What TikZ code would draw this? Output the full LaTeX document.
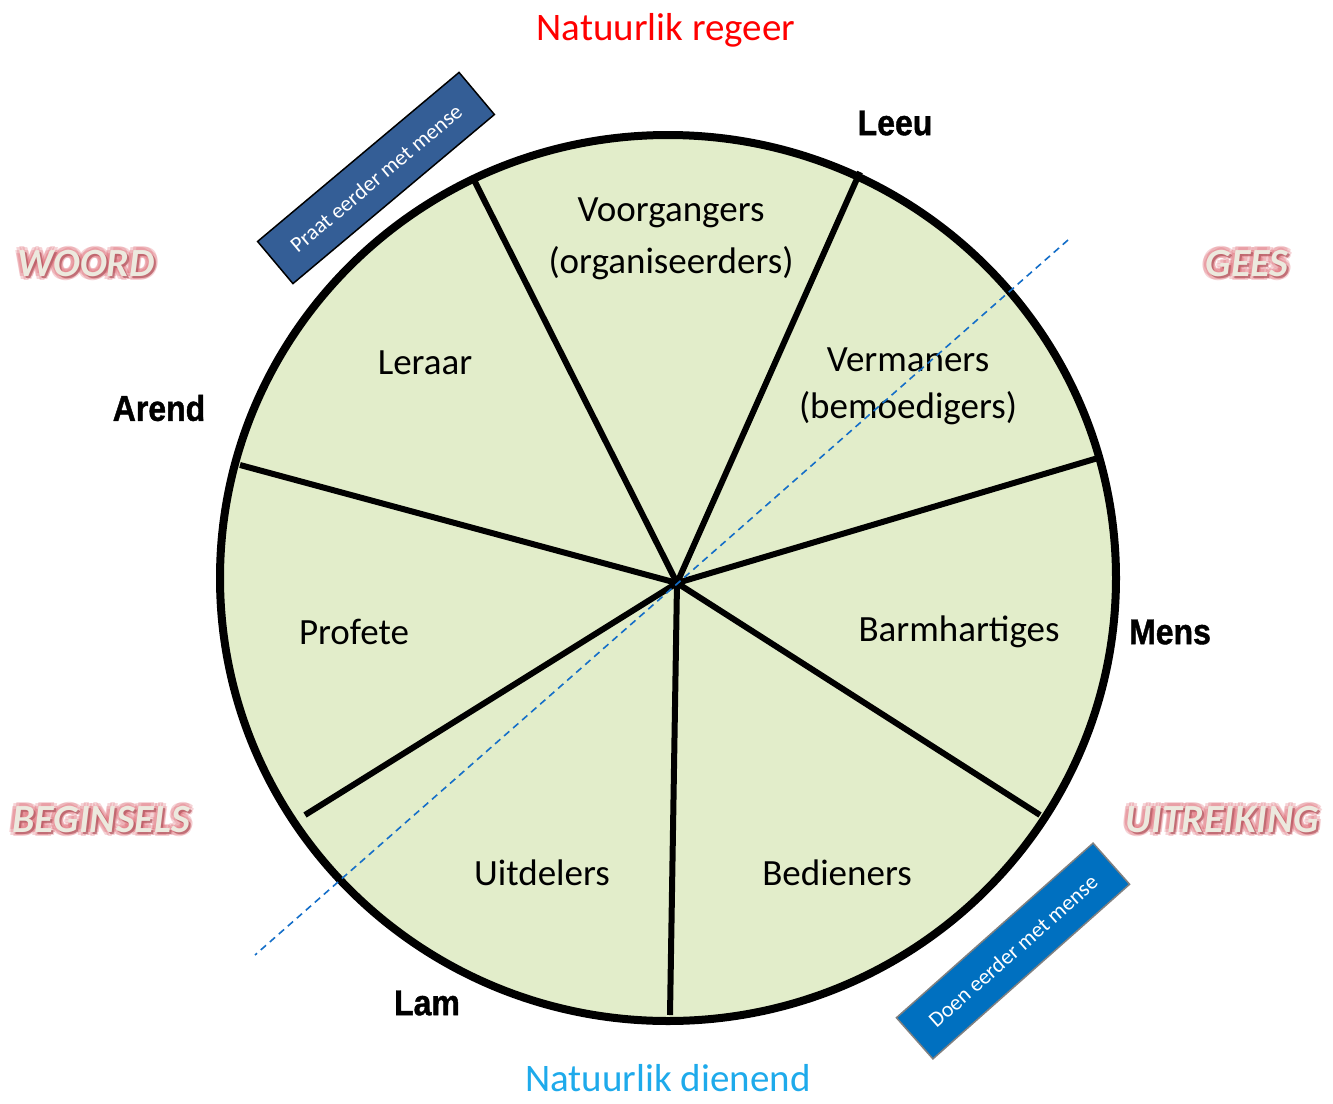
\documentclass[tikz,border=0pt]{standalone}
\usepackage{fontspec}
\usepackage{graphicx}
\setmainfont{Carlito}
\newfontface\beastface{Liberation Sans Bold}[FakeBold=1.2]
\usepackage{tikz}
\usetikzlibrary{positioning, calc}
\definecolor{wheelgreen}{RGB}{226,237,202}
\definecolor{darktag}{RGB}{52,94,150}
\definecolor{brighttag}{RGB}{0,112,192}
\definecolor{dashblue}{RGB}{20,110,200}
\definecolor{glowred}{RGB}{222,110,120}
\definecolor{chalk}{RGB}{236,233,222}
\definecolor{skyblue}{RGB}{30,170,235}

%% word with a reddish glow round it
\newcommand{\glowword}[3]{%
	\foreach \gx/\gy in {-4/0,4/0,0/-4,0/4,-3/-3,3/3,-3/3,3/-3}
		\node[glowcopy, xshift=\gx pt, yshift=\gy pt] at (#2) {#3};
	\node[glowcopy, text=glowred!80!black, opacity=0.7, xshift=2pt, yshift=-2pt] at (#2) {#3};
	\node[glowword] (#1) at (#2) {#3};}
\newcommand{\tallword}[1]{\scalebox{1}[1.12]{#1}}

\begin{document}
\begin{tikzpicture}[x=1pt, y=-1pt,
	sector/.style={font=\fontsize{37}{44}\selectfont, align=center, inner sep=0pt},
	beast/.style={font=\beastface\fontsize{32}{40}\selectfont, inner sep=0pt},
	glowcopy/.style={font=\bfseries\itshape\fontsize{40}{48}\selectfont, text=glowred, opacity=0.3, inner sep=0pt},
	glowword/.style={font=\bfseries\itshape\fontsize{40}{48}\selectfont, text=chalk, inner sep=0pt},
	tag/.style={rotate=40, minimum width=263pt, minimum height=55pt, text=white, font=\fontsize{22}{26}\selectfont, inner sep=0pt},
	spoke/.style={line width=6pt},
	natural/.style={font=\fontsize{39}{46}\selectfont, inner sep=0pt}]
	\useasboundingbox (0,0) rectangle (1333,1103);

	%% wheel
	\draw [line width=8pt, fill=wheelgreen] (668,578) ellipse [x radius=448, y radius=443];
	\coordinate (hub) at (677,583);
	\coordinate (r1) at (473,178);
	\coordinate (r2) at (860,172);
	\coordinate (r3) at (1098,458);
	\coordinate (r4) at (1040,815);
	\coordinate (r5) at (670,1015);
	\coordinate (r6) at (305,815);
	\coordinate (r7) at (240,465);
	\foreach \r in {r1,r2,r3,r4,r5,r6,r7}
		\draw [spoke] (hub) -- (\r);

	%% gifts
	\node[sector, font=\fontsize{37}{52}\selectfont] (voor) at (671,239) {Voorgangers\\(organiseerders)};
	\node[sector] (leraar) at (425,363) {Leraar};
	\node[sector, font=\fontsize{37}{47}\selectfont] (verm) at (908,386) {Vermaners\\(bemoedigers)};
	\node[sector] (profete) at (354,632) {Profete};
	\node[sector] (barm) at (959,632) {Barmhartiges};
	\node[sector] (uitdel) at (542,873) {Uitdelers};
	\node[sector] (bedien) at (837,873) {Bedieners};

	%% faces
	\node[beast] (leeu) at (895,123) {\tallword{Leeu}};
	\node[beast] (arend) at (159,408) {\tallword{Arend}};
	\node[beast] (mens) at (1170,632) {\tallword{Mens}};
	\node[beast] (lam) at (427,1003) {\tallword{Lam}};

	%% corners
	\glowword{woord}{86,264}{WOORD}
	\glowword{gees}{1247,264}{GEES}
	\glowword{beginsels}{101,820}{BEGINSELS}
	\glowword{uitreiking}{1222,820}{UITREIKING}

	\node[natural, text=red] (regeer) at (666,30) {Natuurlik regeer};
	\node[natural, text=skyblue] (dienend) at (668,1078) {Natuurlik dienend};

	%% tags
	\node[tag, fill=darktag, draw=black, line width=1.5pt] (praat) at (376,178) {Praat eerder met mense};
	\node[tag, fill=brighttag, draw=gray, line width=1.5pt, rotate=1.6] (doen) at (1013,951) {Doen eerder met mense};

	%% split line
	\coordinate (splitA) at (1068,240);
	\coordinate (splitB) at (255,955);
	\draw [dashblue, line width=1.6pt, dash pattern=on 7pt off 5pt] (splitA) -- (splitB);
\end{tikzpicture}
\end{document}
